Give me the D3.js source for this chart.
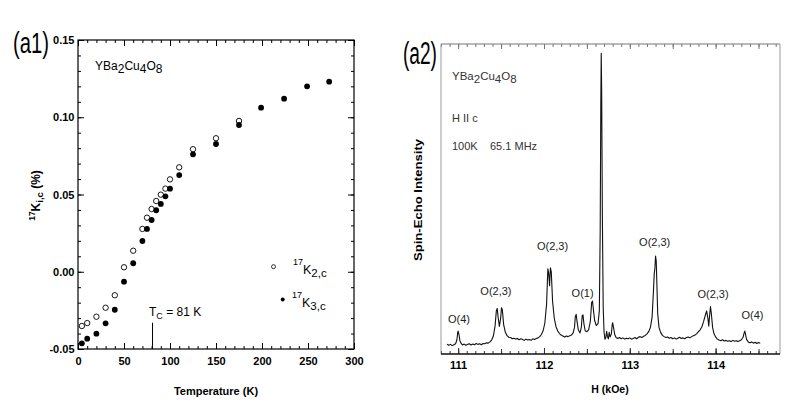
<!DOCTYPE html>
<html><head><meta charset="utf-8">
<script src="https://cdn.jsdelivr.net/npm/d3@7"></script>
<style>
body{margin:0;background:#fff;}
text{font-family:"Liberation Sans",Arial,sans-serif;}
</style></head><body>
<svg id="c" width="790" height="409"></svg>
<script>
// ---------- Panel (a1) data ----------
const tempOpen = [4.2,10,20,30,40,50,60,70,75,80,85,90,95,100,110,125,150,175];
const k2c = [-0.0351,-0.0332,-0.0291,-0.0233,-0.0152,0.0029,0.0136,0.0277,0.0350,0.0406,0.0458,0.0499,0.0538,0.0598,0.0676,0.0793,0.0864,0.0976];
const tempFilled = [4.2,10,20,30,40,50,60,70,75,80,85,90,95,100,110,125,150,175,199,224,249,273];
const k3c = [-0.0463,-0.0433,-0.0401,-0.0334,-0.0246,-0.0064,0.0055,0.0199,0.0277,0.0335,0.0398,0.0439,0.0488,0.0538,0.0626,0.0760,0.0827,0.0950,0.1062,0.1120,0.1200,0.1230];
const xTicksA = [0,50,100,150,200,250,300];
const xTickLabelsA = ["0","50","100","150","200","250","300"];
const yTicksA = [-0.05,0,0.05,0.10,0.15];
const yTickLabelsA = ["-0.05","0.00","0.05","0.10","0.15"];
const tcValue = 81;
const tcLineTop = -0.033;

// ---------- Panel (a2) data ----------
const spectrum = [
[110.87,3.2],[110.89,2.8],[110.91,3.1],[110.93,2.7],[110.95,3.0],[110.97,3.3],[110.985,4.5],[110.995,7.0],[111.00,7.4],[111.01,6.2],[111.02,4.3],[111.035,3.4],[111.05,2.9],[111.07,3.2],[111.09,2.8],[111.11,3.1],[111.13,3.3],[111.15,2.9],[111.17,3.2],[111.19,3.0],[111.21,3.4],[111.23,3.1],[111.25,3.3],[111.27,3.0],[111.29,3.4],[111.31,3.3],[111.33,3.6],[111.35,3.5],[111.37,3.9],[111.39,4.5],[111.41,5.8],[111.43,9.0],[111.445,14.0],[111.455,14.7],[111.465,12.0],[111.48,8.9],[111.495,11.5],[111.505,14.9],[111.515,14.2],[111.53,9.5],[111.55,7.0],[111.57,5.9],[111.59,5.4],[111.61,5.3],[111.63,4.9],[111.65,5.1],[111.67,4.8],[111.69,5.0],[111.71,4.6],[111.73,4.9],[111.75,4.7],[111.77,4.4],[111.79,4.8],[111.81,4.5],[111.83,4.7],[111.85,4.4],[111.87,4.9],[111.89,4.7],[111.91,5.0],[111.93,5.2],[111.95,5.6],[111.97,6.3],[111.99,7.5],[112.01,10.0],[112.03,16.0],[112.045,27.5],[112.055,26.0],[112.065,22.0],[112.075,27.8],[112.085,26.5],[112.10,17.0],[112.12,11.5],[112.14,8.8],[112.16,7.4],[112.18,6.6],[112.20,6.1],[112.22,5.8],[112.24,5.5],[112.26,5.8],[112.28,5.6],[112.30,5.9],[112.32,6.1],[112.34,6.8],[112.355,8.5],[112.365,12.0],[112.375,12.8],[112.385,10.5],[112.40,7.8],[112.42,6.8],[112.435,8.6],[112.445,12.3],[112.455,12.6],[112.465,9.8],[112.48,7.5],[112.50,7.2],[112.52,7.8],[112.54,10.5],[112.555,16.5],[112.565,17.1],[112.575,14.5],[112.59,10.8],[112.61,9.2],[112.63,9.8],[112.645,14.0],[112.655,40.0],[112.662,80.0],[112.667,97.0],[112.672,85.0],[112.68,45.0],[112.69,15.0],[112.70,7.0],[112.71,4.8],[112.72,5.2],[112.73,7.3],[112.74,5.6],[112.75,4.9],[112.76,7.0],[112.77,5.5],[112.785,6.5],[112.795,9.5],[112.80,10.1],[112.81,8.6],[112.825,6.2],[112.84,5.3],[112.86,5.0],[112.88,5.3],[112.90,4.9],[112.92,5.2],[112.94,4.8],[112.96,5.1],[112.98,4.9],[113.00,5.2],[113.02,4.8],[113.04,5.0],[113.06,5.3],[113.08,4.9],[113.10,5.4],[113.12,5.6],[113.14,5.3],[113.16,5.7],[113.18,6.0],[113.20,6.5],[113.22,7.2],[113.24,8.6],[113.26,12.0],[113.275,20.0],[113.285,26.0],[113.292,27.5],[113.30,31.6],[113.308,30.0],[113.316,22.0],[113.325,13.0],[113.34,8.6],[113.36,6.9],[113.38,6.0],[113.40,5.6],[113.42,5.3],[113.44,5.5],[113.46,5.1],[113.48,5.3],[113.50,4.9],[113.52,5.2],[113.54,4.8],[113.56,5.1],[113.58,5.4],[113.60,5.0],[113.62,5.2],[113.64,4.9],[113.66,5.3],[113.68,5.5],[113.70,5.2],[113.72,5.6],[113.74,5.9],[113.76,6.1],[113.78,6.6],[113.80,7.2],[113.82,7.8],[113.84,8.8],[113.86,10.5],[113.88,12.5],[113.895,13.9],[113.91,11.5],[113.92,9.0],[113.93,12.5],[113.94,15.3],[113.95,13.0],[113.965,8.5],[113.98,6.6],[114.00,5.5],[114.02,4.8],[114.04,4.5],[114.06,4.3],[114.08,4.6],[114.10,4.2],[114.12,4.4],[114.14,4.1],[114.16,4.3],[114.18,4.0],[114.20,4.4],[114.22,4.1],[114.24,4.3],[114.26,4.0],[114.28,4.3],[114.30,4.6],[114.32,5.4],[114.33,6.6],[114.34,7.4],[114.35,6.2],[114.36,4.7],[114.38,3.9],[114.40,3.6],[114.42,3.9],[114.44,3.5],[114.46,3.8],[114.48,3.4],[114.50,3.7],[114.52,3.5]
];
const hTicks = [111,112,113,114];
const hTickLabels = ["111","112","113","114"];
const peakLabels = ["O(4)","O(2,3)","O(2,3)","O(1)","O(2,3)","O(2,3)","O(4)"];
const peakLabelH = [111.01,111.44,112.10,112.45,113.29,113.97,114.43];
const peakLabelI = [10.1,19.0,33.5,18.5,34.8,18.0,11.2];

// ---------- drawing ----------
const svg = d3.select("#c");
svg.append("rect").attr("width",790).attr("height",409).attr("fill","#fff");

function tickAxis(g, axisFn, scale, values, size, transform, labels, pad, color){
  const ax = axisFn(scale).tickValues(values).tickSize(-size).tickSizeOuter(0).tickPadding(pad||5)
    .tickFormat(labels ? (d,i)=>labels[i] : () => "");
  const a = g.append("g").attr("transform",transform).call(ax);
  a.select(".domain").remove();
  a.selectAll("line").attr("stroke",color||"#000").attr("stroke-width",1);
  a.attr("font-family",null).attr("font-size",null);
  a.selectAll("text").attr("fill","#000").attr("font-weight","bold").attr("font-size",11);
  return a;
}

// panel tag drawn with a horizontal squeeze so its box really is narrow
function panelTag(label, x, y, size, targetW){
  const t = svg.append("text").attr("font-family","Lato").attr("font-size",size).text(label);
  const w = t.node().getComputedTextLength() || targetW;
  t.attr("transform",`translate(${x},${y}) scale(${targetW/w},1)`);
}

// Panel a1
const xA = d3.scaleLinear().domain([0,300]).range([78,354]);
const yA = d3.scaleLinear().domain([-0.05,0.15]).range([349,40]);
const gA = svg.append("g");
const minorX = d3.range(0,301,10), minorY = d3.range(-5,16).map(d=>d/100);
tickAxis(gA, d3.axisBottom, xA, minorX, 3, "translate(0,349)");
tickAxis(gA, d3.axisTop, xA, minorX, 3, "translate(0,40)");
tickAxis(gA, d3.axisLeft, yA, minorY, 3, "translate(78,0)");
tickAxis(gA, d3.axisRight, yA, minorY, 3, "translate(354,0)");
tickAxis(gA, d3.axisBottom, xA, xTicksA, 6, "translate(0,349)", xTickLabelsA, 8);
tickAxis(gA, d3.axisTop, xA, xTicksA, 6, "translate(0,40)");
tickAxis(gA, d3.axisLeft, yA, yTicksA, 6, "translate(78,0)", yTickLabelsA, 3.5);
tickAxis(gA, d3.axisRight, yA, yTicksA, 6, "translate(354,0)");
gA.append("rect").attr("x",xA(0)).attr("y",yA(0.15)).attr("width",xA(300)-xA(0)).attr("height",yA(-0.05)-yA(0.15))
  .attr("fill","none").attr("stroke","#000").attr("stroke-width",1.2);

gA.selectAll("circle.open").data(tempOpen).join("circle").attr("class","open")
  .attr("cx",d=>xA(d)).attr("cy",(d,i)=>yA(k2c[i])).attr("r",2.7)
  .attr("fill","#fff").attr("stroke","#000").attr("stroke-width",0.9);
gA.selectAll("circle.fill").data(tempFilled).join("circle").attr("class","fill")
  .attr("cx",d=>xA(d)).attr("cy",(d,i)=>yA(k3c[i])).attr("r",2.9).attr("fill","#000");

// Tc marker
gA.append("line").attr("x1",xA(tcValue)).attr("x2",xA(tcValue)).attr("y1",yA(tcLineTop)).attr("y2",yA(-0.05))
  .attr("stroke","#000").attr("stroke-width",1);
const tcT = gA.append("text").attr("x",149).attr("y",316).attr("font-size",12);
tcT.append("tspan").text("T");
tcT.append("tspan").attr("font-size",9).attr("dy",2.5).text("C");
tcT.append("tspan").attr("dy",-2.5).text(" = 81 K");

// compound label
const yb1 = gA.append("text").attr("x",95).attr("y",70).attr("font-size",12);
yb1.append("tspan").text("YBa");
yb1.append("tspan").attr("dy",3).text("2");
yb1.append("tspan").attr("dy",-3).text("Cu");
yb1.append("tspan").attr("dy",3).text("4");
yb1.append("tspan").attr("dy",-3).text("O");
yb1.append("tspan").attr("dy",3).text("8");

// legend
gA.append("circle").attr("cx",273.5).attr("cy",266.7).attr("r",2).attr("fill","#fff").attr("stroke","#000").attr("stroke-width",0.8);
gA.append("circle").attr("cx",282.7).attr("cy",299.5).attr("r",2).attr("fill","#000");
function kLabel(g,x,y,sub){
  const t = g.append("text").attr("x",x).attr("y",y).attr("font-size",12.5);
  t.append("tspan").attr("font-size",9).attr("dy",-9).text("17");
  t.append("tspan").attr("dy",9).text("K");
  t.append("tspan").attr("dy",3).attr("font-size",11.5).text(sub);
}
kLabel(gA,293,274,"2,c");
kLabel(gA,292,307,"3,c");

// axis titles
gA.append("text").attr("x",216).attr("y",395).attr("text-anchor","middle").attr("font-size",11).attr("font-weight","bold").text("Temperature (K)");
const yt = gA.append("text").attr("transform","translate(39.5,195.5) rotate(-90)").attr("text-anchor","middle")
  .attr("font-size",12).attr("font-weight","bold");
yt.append("tspan").attr("font-size",8.5).attr("dy",-5).text("17");
yt.append("tspan").attr("dy",5).text("K");
yt.append("tspan").attr("font-size",9.5).attr("dy",3).text("i,c");
yt.append("tspan").attr("dy",-3).text(" (%)");

panelTag("(a1)", 13, 53, 29, 36);

// Panel a2
const xB = d3.scaleLinear().domain([110.80,114.75]).range([441,780]);
const yB = d3.scaleLinear().domain([0,100]).range([354,44]);
const gB = svg.append("g");
const minorH = d3.range(1108,1148,1).map(d=>d/10);
const midH = d3.range(1110,1148,5).map(d=>d/10);
tickAxis(gB, d3.axisBottom, xB, minorH, 3, "translate(0,354)", null, 0, "#333");
tickAxis(gB, d3.axisTop, xB, minorH, 3, "translate(0,44)", null, 0, "#777");
tickAxis(gB, d3.axisBottom, xB, midH, 5, "translate(0,354)", null, 0, "#333");
tickAxis(gB, d3.axisTop, xB, midH, 5, "translate(0,44)", null, 0, "#777");
tickAxis(gB, d3.axisBottom, xB, hTicks, 6, "translate(0,354)", hTickLabels, 7, "#333");
gB.append("line").attr("x1",xB(110.80)).attr("x2",xB(114.75)).attr("y1",yB(100)).attr("y2",yB(100)).attr("stroke","#777").attr("stroke-width",1);
gB.append("line").attr("x1",xB(110.80)).attr("x2",xB(110.80)).attr("y1",yB(100)).attr("y2",yB(0)).attr("stroke","#999").attr("stroke-width",1);
gB.append("line").attr("x1",xB(114.75)).attr("x2",xB(114.75)).attr("y1",yB(100)).attr("y2",yB(0)).attr("stroke","#999").attr("stroke-width",1);
gB.append("line").attr("x1",xB(110.80)).attr("x2",xB(114.75)).attr("y1",yB(0)).attr("y2",yB(0)).attr("stroke","#111").attr("stroke-width",1.5);

gB.append("path").datum(spectrum)
  .attr("d",d3.line().x(d=>xB(d[0])).y(d=>yB(d[1])))
  .attr("fill","none").attr("stroke","#111").attr("stroke-width",1.1).attr("stroke-linejoin","round");

gB.selectAll("text.pk").data(peakLabels).join("text").attr("class","pk")
  .attr("x",(d,i)=>xB(peakLabelH[i])).attr("y",(d,i)=>yB(peakLabelI[i]))
  .attr("text-anchor","middle").attr("font-size",11).attr("fill","#222").text(d=>d);

const yb2 = gB.append("text").attr("x",452).attr("y",80).attr("font-size",11.5).attr("fill","#333");
yb2.append("tspan").text("YBa");
yb2.append("tspan").attr("dy",3).text("2");
yb2.append("tspan").attr("dy",-3).text("Cu");
yb2.append("tspan").attr("dy",3).text("4");
yb2.append("tspan").attr("dy",-3).text("O");
yb2.append("tspan").attr("dy",3).text("8");
gB.append("text").attr("x",452).attr("y",122).attr("font-size",11).attr("fill","#333").text("H II c");
gB.append("text").attr("x",452).attr("y",150).attr("font-size",11).attr("fill","#333").text("100K");
gB.append("text").attr("x",490).attr("y",150).attr("font-size",11).attr("fill","#333").text("65.1 MHz");

gB.append("text").attr("x",610).attr("y",393).attr("text-anchor","middle").attr("font-size",10.5).attr("font-weight","bold").text("H (kOe)");
gB.append("text").attr("transform","translate(422,200) rotate(-90)").attr("text-anchor","middle")
  .attr("font-size",11.5).attr("font-weight","bold").attr("textLength",122).attr("lengthAdjust","spacingAndGlyphs").text("Spin-Echo Intensity");

panelTag("(a2)", 403, 64, 31, 34);
</script>
</body></html>
